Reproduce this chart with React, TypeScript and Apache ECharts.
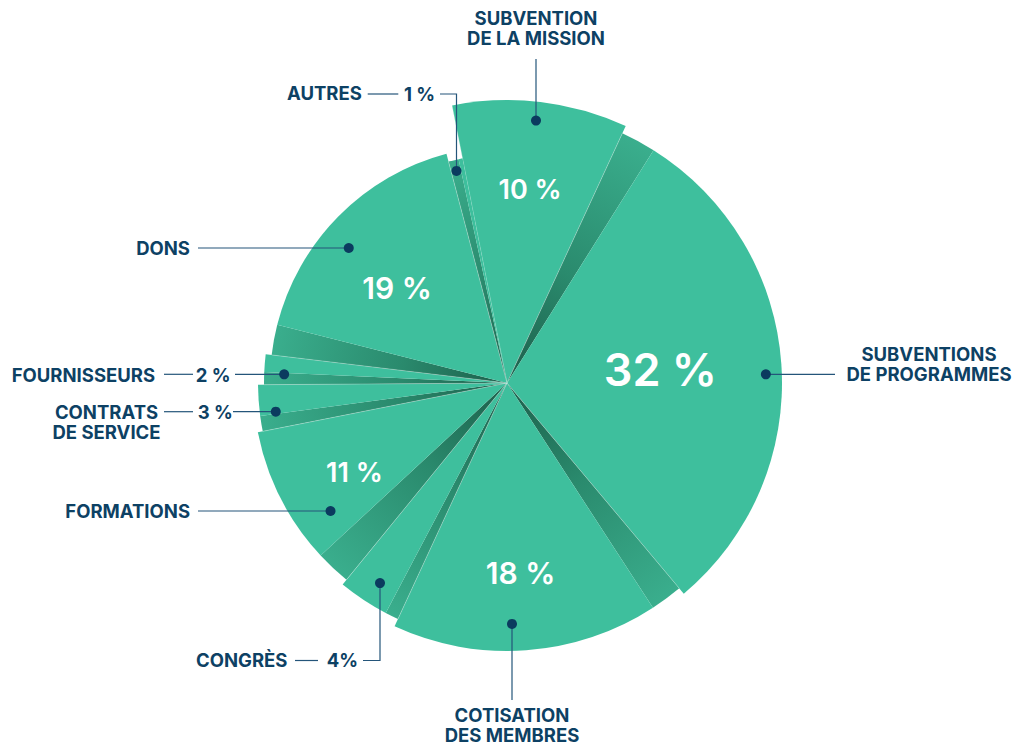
import React, { useEffect, useRef } from "react";
import * as echarts from "echarts";

// ---------- DATA ----------
const CATEGORIES = [
  "SUBVENTION\nDE LA MISSION",
  "SUBVENTIONS\nDE PROGRAMMES",
  "COTISATION\nDES MEMBRES",
  "CONGRÈS",
  "FORMATIONS",
  "CONTRATS\nDE SERVICE",
  "FOURNISSEURS",
  "DONS",
  "AUTRES",
];
const VALUES = [10, 32, 18, 4, 11, 3, 2, 19, 1];
const VALUE_LABELS = ["10 %", "32 %", "18 %", "4%", "11 %", "3 %", "2 %", "19 %", "1 %"];

// ---------- LAYOUT / STYLE ----------
const W = 1013;
const H = 744;
const CX = 507;
const CY = 383;
const START_DEG = -11.2;
const RADII = [283, 275, 268, 260, 254, 249, 243, 237, 229];
const SHADOW_DEG = [0, 7.4, 7, 3, 8, 3.6, 3, 7.4, 2.6];
const INNER_LABEL_R = [195, 154, 190, 0, 177, 0, 0, 145, 0];
const INNER_LABEL_SHIFT = [0, -1, 0, 0, -3.5, 0, 0, -4, 0];
const INNER_LABEL_SIZE = [27, 45, 30, 0, 27, 0, 0, 30, 0];
const INNER_LABEL_WEIGHT = [600, 600, 600, 0, 600, 0, 0, 600, 0];

const TEAL = "#3EBF9D";
const NAVY = "#0D4164";
const DOT = "#0B3B5F";
const LINE = "#24557A";
const FONT = "Inter, Roboto, 'DejaVu Sans', sans-serif";
const TITLE_FONT = `700 18.5px ${FONT}`;

type Anno = {
  mode: "h" | "v";
  at: number;
  r: number;
  segments: number[][][];
  path: number[][];
  title: { x: number; y: number; align: string; lh?: number };
  pct?: { x: number; y: number };
};

const ANNOS: Anno[] = [
  { mode: "v", at: 536, r: 264, segments: [], path: [[536, 59]], title: { x: 536, y: 28, align: "center", lh: 20 } },
  { mode: "h", at: 374.3, r: 259, segments: [], path: [[835, 374.3]], title: { x: 929, y: 363.5, align: "center", lh: 20 } },
  { mode: "v", at: 512, r: 241, segments: [], path: [[512, 700]], title: { x: 512, y: 724.5, align: "center", lh: 20 } },
  {
    mode: "v", at: 380, r: 237,
    segments: [[[295, 660.5], [318, 660.5]]],
    path: [[363, 660.5], [380, 660.5]],
    title: { x: 196, y: 660, align: "left" },
    pct: { x: 342.5, y: 660 },
  },
  { mode: "h", at: 511, r: 218, segments: [], path: [[198, 511]], title: { x: 190, y: 511, align: "right" } },
  {
    mode: "h", at: 411.7, r: 233,
    segments: [[[164, 411.7], [193, 411.7]]],
    path: [[233, 411.7]],
    title: { x: 106.5, y: 421.7, align: "center", lh: 20 },
    pct: { x: 215.3, y: 412 },
  },
  {
    mode: "h", at: 374.3, r: 223,
    segments: [[[164, 374.3], [193, 374.3]]],
    path: [[235, 374.3]],
    title: { x: 11.7, y: 374.5, align: "left" },
    pct: { x: 213.2, y: 374.5 },
  },
  { mode: "h", at: 248, r: 208, segments: [], path: [[198, 248]], title: { x: 190, y: 248, align: "right" } },
  {
    mode: "v", at: 456.5, r: 218,
    segments: [[[367.7, 94], [398.3, 94]]],
    path: [[440, 94], [456.5, 94]],
    title: { x: 287, y: 93, align: "left" },
    pct: { x: 419.5, y: 93.5 },
  },
];

const TOTAL = VALUES.reduce((a, b) => a + b, 0);
const STARTS: number[] = [];
{
  let acc = START_DEG;
  VALUES.forEach((v) => {
    STARTS.push(acc);
    acc += (v / TOTAL) * 360;
  });
}
const rad = (d: number) => ((d - 90) * Math.PI) / 180;

function buildAnnotations() {
  const els: any[] = [];
  ANNOS.forEach((a, i) => {
    const mid = STARTS[i] + ((VALUES[i] / TOTAL) * 360) / 2;
    const sx = Math.sin((mid * Math.PI) / 180);
    const sy = -Math.cos((mid * Math.PI) / 180);
    let dot: number[];
    if (a.mode === "h") {
      const dy = a.at - CY;
      const dx = Math.sqrt(a.r * a.r - dy * dy);
      dot = [CX + Math.sign(sx) * dx, a.at];
    } else {
      const dx = a.at - CX;
      const dy = Math.sqrt(a.r * a.r - dx * dx);
      dot = [a.at, CY + Math.sign(sy) * dy];
    }
    a.segments.forEach((s) => {
      els.push({ type: "polyline", z: 100, shape: { points: s }, style: { stroke: LINE, lineWidth: 1.2, fill: null } });
    });
    els.push({
      type: "polyline", z: 100,
      shape: { points: [...a.path, dot] },
      style: { stroke: LINE, lineWidth: 1.2, fill: null },
    });
    els.push({ type: "circle", z: 101, shape: { cx: dot[0], cy: dot[1], r: 5 }, style: { fill: DOT } });
    els.push({
      type: "text", z: 101, x: a.title.x, y: a.title.y,
      style: {
        text: CATEGORIES[i], fill: NAVY, font: TITLE_FONT,
        textAlign: a.title.align, textVerticalAlign: "middle", lineHeight: a.title.lh || 20,
      },
    });
    if (a.pct) {
      els.push({
        type: "text", z: 101, x: a.pct.x, y: a.pct.y,
        style: { text: VALUE_LABELS[i], fill: NAVY, font: TITLE_FONT, textAlign: "center", textVerticalAlign: "middle" },
      });
    }
  });
  return els;
}

export default function App() {
  const ref = useRef<HTMLDivElement>(null);
  useEffect(() => {
    if (!ref.current) return;
    const chart = echarts.init(ref.current, undefined, { renderer: "svg" });
    chart.setOption({
      animation: false,
      backgroundColor: "#ffffff",
      series: [
        {
          type: "custom",
          coordinateSystem: "none",
          data: VALUES.map((v, i) => ({ name: CATEGORIES[i], value: [v] })),
          renderItem: (params: any, api: any) => {
            const i = params.dataIndex;
            const v = api.value(0);
            const a0 = STARTS[i];
            const a1 = a0 + (v / TOTAL) * 360;
            const r = RADII[i];
            const sh = SHADOW_DEG[i];
            const children: any[] = [];
            if (sh > 0) {
              children.push({
                type: "sector",
                shape: { cx: CX, cy: CY, r0: 0, r, startAngle: rad(a0), endAngle: rad(a0 + sh), clockwise: true },
                style: {
                  fill: new echarts.graphic.RadialGradient(
                    CX, CY, r,
                    [
                      { offset: 0, color: "#1C5E4A" },
                      { offset: 0.45, color: "#2A8A6D" },
                      { offset: 1, color: "#3AAE8D" },
                    ],
                    true
                  ),
                },
              });
            }
            children.push({
              type: "sector",
              shape: { cx: CX, cy: CY, r0: 0, r, startAngle: rad(a0 + sh), endAngle: rad(a1), clockwise: true },
              style: { fill: TEAL },
            });
            children.push({
              type: "line",
              shape: { x1: CX, y1: CY, x2: CX + r * Math.cos(rad(a0)), y2: CY + r * Math.sin(rad(a0)) },
              style: { stroke: "rgba(255,255,255,0.35)", lineWidth: 0.8 },
            });
            if (INNER_LABEL_R[i]) {
              const am = (a0 + sh + a1) / 2 + INNER_LABEL_SHIFT[i];
              const lr = INNER_LABEL_R[i];
              children.push({
                type: "text",
                x: CX + lr * Math.cos(rad(am)),
                y: CY + lr * Math.sin(rad(am)),
                style: {
                  text: VALUE_LABELS[i],
                  fill: "#ffffff",
                  font: `${INNER_LABEL_WEIGHT[i]} ${INNER_LABEL_SIZE[i]}px ${FONT}`,
                  textAlign: "center",
                  textVerticalAlign: "middle",
                },
              });
            }
            return { type: "group", children };
          },
        },
      ],
      graphic: { elements: buildAnnotations() },
    });
    return () => chart.dispose();
  }, []);
  return (
    <div
      ref={ref}
      style={{ position: "fixed", left: 0, top: 0, width: W + "px", height: H + "px", background: "#fff" }}
    />
  );
}
